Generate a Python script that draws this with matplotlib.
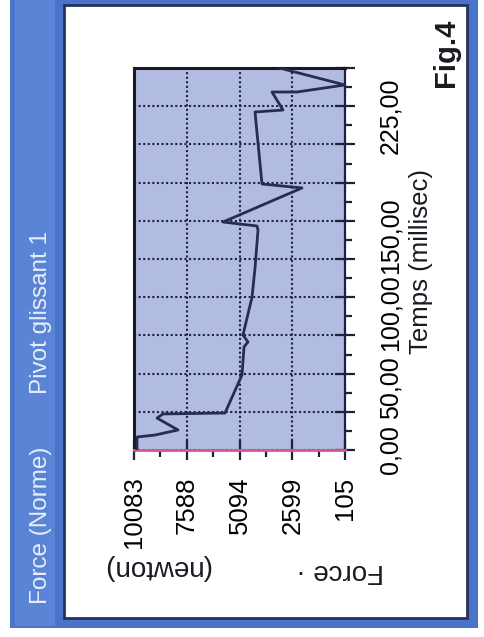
import numpy as np
import matplotlib
matplotlib.use("Agg")
import matplotlib.pyplot as plt
from matplotlib.patches import Rectangle

plt.rcParams['font.family'] = ['Liberation Sans', 'DejaVu Sans']

# curve: time (ms) vs force norm (N)
time_ms = [0, 8.5, 9.8, 13.1, 20.9, 23.6, 24.2, 49.1, 67.5, 70.7, 75.3, 100, 119,
           144, 146.6, 149.2, 171.5, 174.1, 221.2, 222.5, 234.3, 234.3, 238.9, 248.7, 250]
force_n = [9941, 9941, 9090, 8002, 8995, 8712, 5780, 4976, 4881, 4692, 4929, 4503, 4361,
           4219, 4266, 5874, 2138, 4030, 4361, 3037, 3557, 2375, 105, 2848, 3179]

force_ticks = [10083, 7588, 5094, 2599, 105]
force_labels = ["10083", "7588", "5094", "2599", "105"]
time_grid = np.arange(0, 251, 25)
time_labels = ["0,00", "50,00", "100,00", "150,00", "225,00"]
time_label_pos = [0, 41, 90, 140.5, 219]   # where the scan prints them

W, H = 484, 637
fig = plt.figure(figsize=(W / 100, H / 100), dpi=100)


def fx(px):
    return px / W


def fy(py):
    return 1 - py / H


def box(x0, y0, x1, y1, **kw):
    fig.add_artist(Rectangle((fx(x0), fy(y1)), (x1 - x0) / W, (y1 - y0) / H,
                             transform=fig.transFigure, zorder=-5, **kw))


# window frame
box(10, 0, 478, 628, facecolor='#4a74ca', edgecolor='none')
box(15, 0, 55, 626, facecolor='#5a84d5', edgecolor='none')
box(64, 5, 467, 618, facecolor='white', edgecolor='#24325e', linewidth=2)

fig.text(fx(41), fy(525), "Force (Norme)", rotation=90, ha='center', va='center',
         fontsize=17.5, color='#e8eefa')
fig.text(fx(41), fy(313), "Pivot glissant 1", rotation=90, ha='center', va='center',
         fontsize=17.5, color='#e8eefa')

# plot area
ax = fig.add_axes([fx(134), fy(450), (345 - 134) / W, (450 - 68) / H])
ax.set_facecolor('#b2bbe2')
ax.plot(force_n, time_ms, color='#272d4e', linewidth=2, zorder=3)
ax.set_xlim(force_ticks[0], force_ticks[-1])
ax.set_ylim(0, 250)

ax.set_xticks(force_ticks, labels=force_labels)
ax.set_xticks(np.convolve(force_ticks, [0.5, 0.5], 'valid'), minor=True)
ax.set_yticks(time_grid, labels=[''] * len(time_grid))
ax.set_yticks(time_grid[:-1] + 12.5, minor=True)
ax.yaxis.tick_right()

ax.grid(True, which='major', color='#1c2240', linestyle=(0, (1, 1.2)), linewidth=1.5)
ax.tick_params(axis='x', which='major', direction='inout', length=14, width=1.6,
               color='#1c2240', labelrotation=90, labelsize=18.5, pad=12)
ax.tick_params(axis='x', which='minor', direction='out', length=5, width=1.6, color='#1c2240')
ax.tick_params(axis='y', which='major', direction='inout', length=14, width=1.6,
               color='#1c2240', right=True, left=False)
ax.tick_params(axis='y', which='minor', direction='out', length=5, width=1.6,
               color='#1c2240', right=True, left=False)

for side in ['left', 'top']:
    ax.spines[side].set_linewidth(2.2)
    ax.spines[side].set_color('#1a1a22')
ax.spines['right'].set_linewidth(1.6)
ax.spines['right'].set_color('#1c2240')
ax.spines['bottom'].set_linewidth(2)
ax.spines['bottom'].set_color('#d9578c')

# time labels sit where the scan puts them
sec = ax.secondary_yaxis('right')
sec.set_yticks(time_label_pos, labels=time_labels)
sec.tick_params(length=0, pad=24, labelsize=18, labelrotation=90)
for lbl in sec.get_yticklabels():
    lbl.set_va('center')
for sp in sec.spines.values():
    sp.set_visible(False)

fig.text(fx(421), fy(262), "Temps (millisec)", rotation=90, ha='center', va='center',
         fontsize=18.5, color='#1a1a22')
fig.text(fx(156), fy(567), "(newton)", rotation=180, ha='center', va='center',
         fontsize=20, color='#1a1a22')
fig.text(fx(340), fy(571), "Force \u00b7", rotation=180, ha='center', va='center',
         fontsize=20, color='#1a1a22')
fig.text(fx(446), fy(53), "Fig.4", rotation=90, ha='center', va='center',
         fontsize=21, fontweight='bold', color='#1a1a22')

fig.savefig('out.png', dpi=100)
